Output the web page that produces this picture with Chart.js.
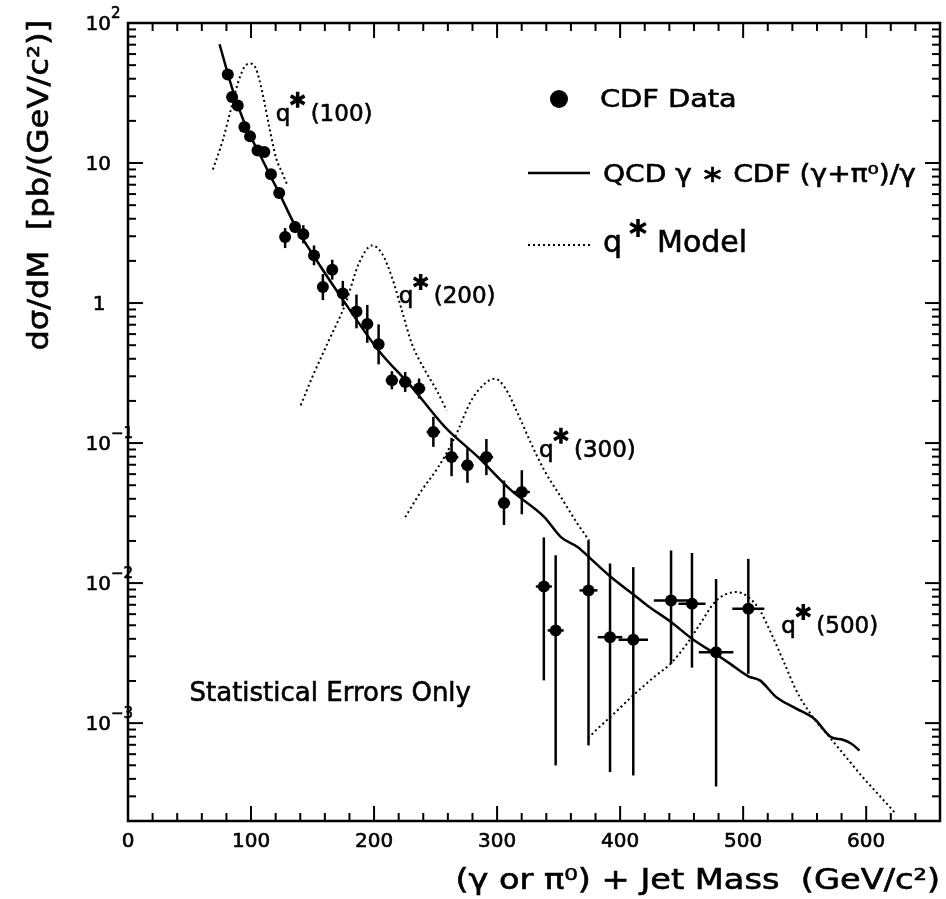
<!DOCTYPE html>
<html>
<head>
<meta charset="utf-8">
<script src="https://cdn.jsdelivr.net/npm/chart.js@4.4.1/dist/chart.umd.min.js"></script>
<style>
  body { margin: 0; background: #fff; }
  #wrap { width: 946px; height: 899px; }
</style>
</head>
<body>
<div id="wrap"><canvas id="grafica"></canvas></div>
<script>
// CDF data points (mass in GeV/c^2, dsigma/dM in pb/(GeV/c^2))
const cdfMass  = [81.1, 84.6, 89.2, 94.6, 99.2, 105.3, 110.8, 116.2, 122.9, 127.7, 135.8, 142.5, 151.2, 158.4, 166.0, 174.6, 185.7, 194.5,
                  203.7, 214.5, 225.3, 236.6, 248.2, 263.0, 275.9, 291.3, 305.6, 320.1, 338.0, 347.6, 374.3, 391.8, 410.7, 441.4, 458.4, 478.0, 504.2];
const cdfValue = [42.8, 29.6, 25.8, 18.1, 15.5, 12.3, 12.0, 8.3, 6.1, 2.96, 3.49, 3.1, 2.19, 1.30, 1.73, 1.17, 0.87, 0.71,
                  0.507, 0.281, 0.273, 0.245, 0.120, 0.0794, 0.0694, 0.0794, 0.0373, 0.0447, 0.00946, 0.00459, 0.00887, 0.00411, 0.00394, 0.00751, 0.00712, 0.00321, 0.00656];
const cdfLow   = [40.8, 28.2, 24.6, 17.2, 14.8, 11.7, 11.4, 7.8, 5.6, 2.47, 3.16, 2.67, 1.86, 1.05, 1.47, 0.95, 0.66, 0.52,
                  0.365, 0.242, 0.232, 0.208, 0.094, 0.058, 0.052, 0.059, 0.026, 0.031, 0.00202, 0.000499, 0.000693, 0.000447, 0.000423, 0.00265, 0.00249, 0.000353, 0.00225];
const cdfHigh  = [44.9, 31.1, 27.1, 19.0, 16.3, 12.9, 12.6, 8.9, 6.6, 3.43, 3.85, 3.6, 2.58, 1.61, 2.04, 1.44, 1.15, 0.97,
                  0.704, 0.326, 0.322, 0.289, 0.154, 0.109, 0.092, 0.107, 0.054, 0.064, 0.0212, 0.0158, 0.0202, 0.0138, 0.0130, 0.0171, 0.0164, 0.0107, 0.0149];
const cdfMassErr = [0, 0, 0, 0, 0, 0, 0, 0, 0, 0, 0, 0, 0, 0, 0, 0, 0, 0,
                    0, 5, 5, 5, 5.5, 5.5, 5, 5.5, 5, 6.5, 6.5, 6.5, 7.3, 10, 12, 14, 11, 14, 13];

// QCD prediction (solid line)
const qcdMass  = [74.4, 85.2, 96.0, 106.7, 114.8, 122.9, 136.4, 149.8, 176.8, 203.7, 230.7, 257.7, 284.6, 311.5, 338.4, 351.9, 365.4, 376.2,
                  391.8, 410.7, 422.0, 441.4, 458.4, 478.0, 489.3, 504.2, 513.6, 527.1, 543.2, 558.0, 571.5, 581.0, 588.0, 594.6];
const qcdValue = [70.5, 33, 18.1, 11.7, 8.4, 6.1, 3.49, 2.25, 0.99, 0.459, 0.251, 0.130, 0.0794, 0.0459, 0.0296, 0.0213, 0.0181, 0.0149,
                  0.0112, 0.0083, 0.00693, 0.00527, 0.00401, 0.0031, 0.00266, 0.00216, 0.00202, 0.00153, 0.00127, 0.00107, 0.000794, 0.00076, 0.000713, 0.000638];

// q* model curves (dotted)
const q100Mass  = [69, 77, 83.8, 89.2, 94.6, 99.2, 104, 109.4, 114.8, 120.2, 125.6, 129.6];
const q100Value = [8.98, 14.5, 24.5, 36.9, 48.5, 51.3, 47.2, 31.3, 18.1, 11.0, 8.4, 6.93];
const q200Mass  = [140.4, 149.8, 163.3, 176.8, 187.6, 198.4, 206.5, 214.5, 222.6, 230.7, 241.5, 250.9, 259];
const q200Value = [0.186, 0.296, 0.542, 0.99, 1.91, 2.58, 2.25, 1.53, 0.887, 0.513, 0.330, 0.238, 0.171];
const q300Mass  = [225.3, 238.7, 252.2, 265.7, 279.1, 289.9, 298, 306.1, 316.9, 327.7, 338.4, 351.9, 365.4, 374.8];
const q300Value = [0.0296, 0.0459, 0.0674, 0.110, 0.202, 0.265, 0.288, 0.251, 0.162, 0.099, 0.0638, 0.0411, 0.0265, 0.0202];
const q500Mass  = [374, 381.6, 391.8, 410.7, 427.4, 441.4, 454.3, 465.1, 475.9, 484, 494.8, 504.2, 513.6, 521.7, 532.5, 543.2, 556.8, 570.2, 583.7, 597.2, 610.6, 624.1];
const q500Value = [0.00078, 0.000912, 0.0011, 0.00158, 0.00213, 0.00268, 0.00369, 0.00513, 0.00713, 0.00817, 0.00863, 0.00794, 0.00638, 0.00459,
                   0.00281, 0.00171, 0.0011, 0.000794, 0.000571, 0.000411, 0.000305, 0.000225];

// axis ticks
const xTickValues = [0, 100, 200, 300, 400, 500, 600];
const yTickValues = [100, 10, 1, 0.1, 0.01, 0.001];
const yTickBase   = ['10', '10', '1', '10', '10', '10'];
const yTickExp    = ['2', '', '', '\u22121', '\u22122', '\u22123'];

// labels of the q* curves: [text, mass, value]
const qLabels = [['(100)', 120, 20], ['(200)', 220, 1.0], ['(300)', 334, 0.08], ['(500)', 531, 0.0044]];

const FONT = '"DejaVu Sans", sans-serif';

function puntos(xs, ys) {
    return xs.map((x, i) => ({ x: x, y: ys[i] }));
}

function texto(ctx, s, x, y, size, align, sx) {
    ctx.save();
    ctx.translate(x, y);
    ctx.scale(sx || 1, 1);
    ctx.font = size + 'px ' + FONT;
    ctx.textAlign = align || 'left';
    ctx.textBaseline = 'alphabetic';
    ctx.fillText(s, 0, 0);
    // un poco más grueso, como el original
    ctx.lineWidth = 0.6;
    ctx.strokeText(s, 0, 0);
    ctx.restore();
}

function estrella(ctx, cx, cy, r, lw) {
    ctx.save();
    ctx.lineWidth = lw;
    ctx.lineCap = 'butt';
    ctx.beginPath();
    for (let k = 0; k < 3; k++) {
        const a = Math.PI / 2 + k * Math.PI / 3;
        ctx.moveTo(cx - r * Math.cos(a), cy - r * Math.sin(a));
        ctx.lineTo(cx + r * Math.cos(a), cy + r * Math.sin(a));
    }
    ctx.stroke();
    ctx.restore();
}

function linea(ctx, x1, y1, x2, y2) {
    ctx.beginPath();
    ctx.moveTo(x1, y1);
    ctx.lineTo(x2, y2);
    ctx.stroke();
}

const marcoPlugin = {
    id: 'marco',
    beforeDatasetsDraw(chart) {
        // error bars
        const ctx = chart.ctx, xs = chart.scales.x, ys = chart.scales.y;
        ctx.save();
        ctx.strokeStyle = '#000';
        ctx.lineWidth = 2.5;
        for (let i = 0; i < cdfMass.length; i++) {
            const px = xs.getPixelForValue(cdfMass[i]);
            const py = ys.getPixelForValue(cdfValue[i]);
            linea(ctx, px, ys.getPixelForValue(cdfHigh[i]), px, ys.getPixelForValue(cdfLow[i]));
            if (cdfMassErr[i] > 0) {
                linea(ctx, xs.getPixelForValue(cdfMass[i] - cdfMassErr[i]), py, xs.getPixelForValue(cdfMass[i] + cdfMassErr[i]), py);
            }
        }
        ctx.restore();
    },
    afterDraw(chart) {
        const ctx = chart.ctx, xs = chart.scales.x, ys = chart.scales.y;
        const a = chart.chartArea;
        ctx.save();
        ctx.strokeStyle = '#000';
        ctx.fillStyle = '#000';

        // frame
        ctx.lineWidth = 2.5;
        ctx.strokeRect(a.left, a.top, a.right - a.left, a.bottom - a.top);

        // x ticks (inside, bottom and top)
        ctx.lineWidth = 2;
        for (let v = 20; v < xs.max; v += 20) {
            const px = xs.getPixelForValue(v);
            const len = v % 100 === 0 ? 15 : 8;
            linea(ctx, px, a.bottom, px, a.bottom - len);
            linea(ctx, px, a.top, px, a.top + len);
        }
        // y ticks (inside, left and right)
        for (let d = -4; d <= 2; d++) {
            for (let m = 1; m <= 9; m++) {
                const v = m * Math.pow(10, d);
                if (v < ys.min * 0.999 || v > ys.max * 1.001) continue;
                const py = ys.getPixelForValue(v);
                const len = m === 1 ? 15 : 8;
                linea(ctx, a.left, py, a.left + len, py);
                linea(ctx, a.right, py, a.right - len, py);
            }
        }

        // tick labels
        xTickValues.forEach(v => {
            texto(ctx, String(v), xs.getPixelForValue(v), a.bottom + 26, 20, 'center');
        });
        yTickValues.forEach((v, i) => {
            const py = ys.getPixelForValue(v);
            if (yTickBase[i] === '1') {
                texto(ctx, '1', a.left - 29, py + 7, 20, 'center');
            } else {
                texto(ctx, yTickBase[i], a.left - 17, py + 7, 20, 'right');
                if (yTickExp[i]) texto(ctx, yTickExp[i], a.left - 17, py - 5, 15, 'left');
            }
        });

        // axis titles
        texto(ctx, '(\u03b3 or \u03c0\u2070) + Jet Mass  (GeV/c\u00b2)', a.right, a.bottom + 68, 28, 'right', 1.2);
        ctx.save();
        ctx.translate(a.left - 80, a.top - 3);
        ctx.rotate(-Math.PI / 2);
        texto(ctx, 'd\u03c3/dM  [pb/(GeV/c\u00b2)]', 0, 0, 28, 'right', 1.15);
        ctx.restore();

        // q* curve labels
        qLabels.forEach(l => {
            const px = xs.getPixelForValue(l[1]);
            const py = ys.getPixelForValue(l[2]);
            texto(ctx, 'q', px, py, 23, 'left');
            estrella(ctx, px + 22, py - 21, 8, 3.5);
            texto(ctx, l[0], px + 35, py, 23, 'left');
        });

        texto(ctx, 'Statistical Errors Only', xs.getPixelForValue(50), ys.getPixelForValue(0.00145), 26, 'left');

        // legend
        const lx = a.left + 400, ly = a.top;
        ctx.beginPath();
        ctx.arc(lx + 31, ly + 76, 9, 0, Math.PI * 2);
        ctx.fill();
        texto(ctx, 'CDF Data', lx + 72, ly + 84, 24, 'left', 1.2);

        ctx.lineWidth = 2.5;
        linea(ctx, lx, ly + 150, lx + 62, ly + 150);
        texto(ctx, 'QCD \u03b3 \u2217 CDF (\u03b3+\u03c0\u2070)/\u03b3', lx + 75, ly + 159, 24, 'left', 1.17);

        ctx.save();
        ctx.lineWidth = 2;
        ctx.setLineDash([2, 3]);
        linea(ctx, lx, ly + 222, lx + 62, ly + 222);
        ctx.restore();
        texto(ctx, 'q', lx + 75, ly + 229, 30, 'left');
        estrella(ctx, lx + 110, ly + 205, 9, 3.5);
        texto(ctx, 'Model', lx + 129, ly + 229, 30, 'left');

        ctx.restore();
    }
};

const curva = (xs, ys, dash, width) => ({
    type: 'scatter',
    data: puntos(xs, ys),
    showLine: true,
    borderColor: '#000',
    borderWidth: width,
    borderDash: dash,
    pointRadius: 0,
    cubicInterpolationMode: 'monotone',
    fill: false
});

new Chart(document.getElementById('grafica'), {
    type: 'scatter',
    data: {
        datasets: [
            {
                data: puntos(cdfMass, cdfValue),
                pointRadius: 6,
                pointHoverRadius: 6,
                backgroundColor: '#000',
                borderColor: '#000',
                borderWidth: 0
            },
            curva(qcdMass, qcdValue, [], 2.5),
            curva(q100Mass, q100Value, [2, 3], 2),
            curva(q200Mass, q200Value, [2, 3], 2),
            curva(q300Mass, q300Value, [2, 3], 2),
            curva(q500Mass, q500Value, [2, 3], 2)
        ]
    },
    options: {
        responsive: true,
        maintainAspectRatio: false,
        animation: false,
        devicePixelRatio: 1,
        layout: { padding: { top: 23, right: 3, left: 0, bottom: 0 } },
        plugins: {
            legend: { display: false },
            tooltip: { enabled: false }
        },
        scales: {
            x: {
                type: 'linear',
                min: 0,
                max: 660,
                ticks: { display: false },
                grid: { display: false },
                border: { display: false },
                afterFit: s => { s.height = 78; }
            },
            y: {
                type: 'logarithmic',
                min: 0.0002,
                max: 100,
                ticks: { display: false },
                grid: { display: false },
                border: { display: false },
                afterFit: s => { s.width = 128; }
            }
        }
    },
    plugins: [marcoPlugin]
});
</script>
</body>
</html>
